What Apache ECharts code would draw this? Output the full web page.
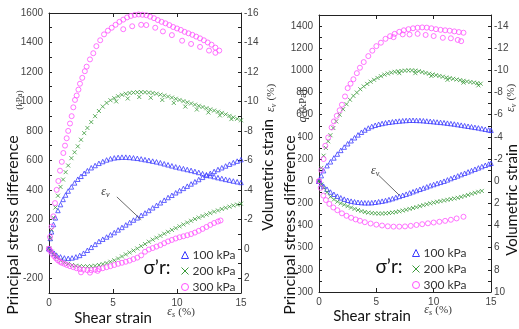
<!DOCTYPE html>
<html><head><meta charset="utf-8">
<script src="https://cdn.jsdelivr.net/npm/echarts@6/dist/echarts.min.js"></script>
<style>html,body{margin:0;padding:0;background:#fff}#c{width:519px;height:329px}</style>
</head><body><div id="c"></div>
<script>
// ---------- DATA (shear strain %, value) ----------
// Left panel: principal stress difference q (kPa)
const leftQ100 = [[0,0],[0.1,70],[0.2,115],[0.35,165],[0.5,210],[0.7,260],[0.9,300],[1.1,335],[1.3,365],[1.5,392],[1.75,420],[2.0,447],[2.25,472],[2.5,492],[2.75,512],[3.0,530],[3.3,550],[3.6,565],[3.9,580],[4.2,592],[4.5,603],[4.8,611],[5.1,617],[5.4,620],[5.7,622],[6.0,622],[6.3,620],[6.6,617],[6.9,614],[7.2,610],[7.5,605],[7.8,600],[8.1,595],[8.4,590],[8.7,584],[9.0,577],[9.3,570],[9.6,563],[9.9,556],[10.2,550],[10.5,544],[10.8,538],[11.1,532],[11.4,525],[11.7,518],[12.0,510],[12.3,503],[12.6,496],[12.9,490],[13.2,483],[13.5,477],[13.8,471],[14.1,466],[14.4,460],[14.7,455],[15.0,450]];
const leftQ200 = [[0,0],[0.1,70],[0.2,130],[0.35,210],[0.5,280],[0.7,360],[0.9,420],[1.1,470],[1.3,520],[1.5,565],[1.75,615],[2.0,655],[2.25,695],[2.5,740],[2.75,785],[3.0,820],[3.3,860],[3.6,900],[3.9,935],[4.2,965],[4.5,990],[4.8,1008],[5.1,1022],[5.4,1035],[5.7,1045],[6.0,1052],[6.3,1057],[6.6,1060],[6.9,1062],[7.2,1063],[7.5,1062],[7.8,1060],[8.1,1057],[8.4,1052],[8.7,1046],[9.0,1040],[9.3,1033],[9.6,1026],[9.9,1018],[10.2,1010],[10.5,1002],[10.8,994],[11.1,986],[11.4,978],[11.7,970],[12.0,962],[12.3,954],[12.6,946],[12.9,938],[13.2,930],[13.5,922],[13.8,912],[14.1,902],[14.4,892],[14.7,882],[15.0,872],
  [5.25,1000],[6.15,1020],[7.05,1030],[7.95,1025],[8.85,1010],[9.75,990],[10.65,965],[11.55,945],[12.45,925],[13.35,905],[14.25,880]];
const leftQ300 = [[0,0],[0.08,80],[0.2,150],[0.34,220],[0.47,310],[0.6,400],[0.73,460],[0.86,530],[1.0,590],[1.12,650],[1.25,700],[1.38,750],[1.5,800],[1.64,850],[1.77,900],[1.9,960],[2.03,1010],[2.16,1040],[2.3,1080],[2.42,1120],[2.6,1160],[2.8,1205],[2.94,1236],[3.2,1285],[3.46,1327],[3.7,1375],[4.0,1415],[4.3,1455],[4.6,1480],[4.9,1500],[5.2,1520],[5.5,1540],[5.8,1555],[6.1,1570],[6.4,1580],[6.7,1587],[7.0,1590],[7.3,1588],[7.6,1585],[7.9,1575],[8.2,1565],[8.5,1552],[8.8,1540],[9.1,1530],[9.4,1518],[9.7,1505],[10.0,1495],[10.3,1485],[10.6,1472],[10.9,1462],[11.2,1452],[11.5,1440],[11.8,1428],[12.1,1415],[12.4,1400],[12.7,1385],[13.0,1365],[13.3,1345],
  [5.8,1490],[6.5,1510],[7.2,1520],[7.6,1518],[8.3,1500],[8.9,1475],[9.6,1450],[10.4,1412],[11.1,1390],[11.8,1370],[12.5,1345],[13.0,1330]];
// Left panel: volumetric strain (%)
const leftEv100 = [[0,0],[0.2,0.15],[0.4,0.3],[0.6,0.45],[0.9,0.55],[1.2,0.62],[1.5,0.65],[1.8,0.62],[2.1,0.55],[2.4,0.45],[2.7,0.3],[3.0,0.1],[3.3,-0.1],[3.6,-0.3],[3.9,-0.5],[4.2,-0.65],[4.5,-0.8],[4.8,-0.95],[5.1,-1.1],[5.4,-1.28],[5.7,-1.45],[6.0,-1.62],[6.3,-1.78],[6.6,-1.95],[6.9,-2.1],[7.2,-2.27],[7.5,-2.43],[7.8,-2.6],[8.1,-2.78],[8.4,-2.95],[8.7,-3.12],[9.0,-3.3],[9.3,-3.48],[9.6,-3.63],[9.9,-3.8],[10.2,-3.95],[10.5,-4.1],[10.8,-4.25],[11.1,-4.4],[11.4,-4.55],[11.7,-4.7],[12.0,-4.85],[12.3,-4.98],[12.6,-5.12],[12.9,-5.25],[13.2,-5.38],[13.5,-5.5],[13.8,-5.62],[14.1,-5.74],[14.4,-5.85],[14.7,-5.95],[15.0,-6.05]];
const leftEv200 = [[0,0],[0.2,0.2],[0.4,0.4],[0.6,0.58],[0.9,0.78],[1.2,0.92],[1.5,1.02],[1.8,1.1],[2.1,1.15],[2.4,1.18],[2.7,1.2],[3.0,1.2],[3.3,1.18],[3.6,1.15],[3.9,1.1],[4.2,1.04],[4.5,0.97],[4.8,0.88],[5.1,0.78],[5.4,0.66],[5.7,0.52],[6.0,0.38],[6.3,0.25],[6.6,0.12],[6.9,-0.02],[7.2,-0.18],[7.5,-0.32],[7.8,-0.48],[8.1,-0.62],[8.4,-0.75],[8.7,-0.88],[9.0,-1.02],[9.3,-1.15],[9.6,-1.28],[9.9,-1.4],[10.2,-1.52],[10.5,-1.65],[10.8,-1.78],[11.1,-1.9],[11.4,-2.02],[11.7,-2.12],[12.0,-2.22],[12.3,-2.32],[12.6,-2.42],[12.9,-2.52],[13.2,-2.6],[13.5,-2.7],[13.8,-2.78],[14.1,-2.86],[14.4,-2.94],[14.7,-3.0],[15.0,-3.06]];
const leftEv300 = [[0,0],[0.1,0.15],[0.25,0.35],[0.4,0.5],[0.55,0.65],[0.7,0.78],[0.86,0.88],[1.0,0.95],[1.2,1.02],[1.4,1.1],[1.64,1.18],[1.9,1.25],[2.15,1.32],[2.4,1.38],[2.7,1.42],[3.0,1.45],[3.3,1.45],[3.6,1.42],[3.9,1.38],[4.2,1.32],[4.5,1.25],[4.8,1.18],[5.1,1.1],[5.4,1.02],[5.7,0.95],[6.0,0.88],[6.3,0.8],[6.6,0.7],[6.9,0.6],[7.2,0.45],[7.5,0.2],[7.8,0.05],[8.1,-0.05],[8.4,-0.15],[8.7,-0.25],[9.0,-0.38],[9.3,-0.5],[9.6,-0.6],[9.9,-0.7],[10.2,-0.78],[10.5,-0.85],[10.8,-0.92],[11.1,-1.0],[11.4,-1.1],[11.7,-1.22],[12.0,-1.35],[12.3,-1.48],[12.6,-1.62],[12.9,-1.75],[13.2,-1.85],[13.4,-1.92],
  [2.5,1.6],[3.2,1.62],[3.8,1.5]];
// Right panel: q (kPa)
const rightQ100 = [[0,0],[0.2,50],[0.4,95],[0.7,140],[1.0,175],[1.3,210],[1.6,245],[1.9,278],[2.2,308],[2.5,338],[2.8,365],[3.1,392],[3.4,418],[3.7,442],[4.0,462],[4.3,480],[4.6,494],[4.9,505],[5.2,514],[5.5,521],[5.8,527],[6.1,532],[6.4,536],[6.7,540],[7.0,543],[7.3,546],[7.6,548],[7.9,550],[8.2,550],[8.5,549],[8.8,548],[9.1,546],[9.4,543],[9.7,540],[10.0,537],[10.3,534],[10.6,531],[10.9,528],[11.2,524],[11.5,520],[11.8,516],[12.1,511],[12.4,506],[12.7,501],[13.0,496],[13.3,491],[13.6,486],[13.9,481],[14.2,475],[14.5,469],[14.8,463],[15.0,459]];
const rightQ200 = [[0,0],[0.2,120],[0.4,230],[0.6,300],[0.8,360],[1.0,415],[1.25,480],[1.5,540],[1.8,600],[2.1,650],[2.4,695],[2.7,735],[3.0,770],[3.3,800],[3.6,830],[3.9,855],[4.2,878],[4.5,898],[4.8,915],[5.1,932],[5.4,948],[5.7,962],[6.0,972],[6.3,980],[6.6,987],[6.9,992],[7.2,995],[7.5,998],[7.8,1000],[8.1,1000],[8.4,998],[8.7,993],[9.0,985],[9.3,977],[9.6,970],[9.9,963],[10.2,957],[10.5,950],[10.8,943],[11.1,936],[11.4,930],[11.7,924],[12.0,918],[12.3,912],[12.6,906],[12.9,900],[13.2,895],[13.5,890],[13.8,885],[14.1,880],
  [7.0,975],[8.4,975],[9.8,950],[11.2,915],[12.6,890],[13.9,865]];
const rightQ300 = [[0,0],[0.2,100],[0.4,200],[0.55,320],[0.8,395],[1.1,485],[1.3,540],[1.55,590],[1.8,640],[2.0,690],[2.27,765],[2.5,840],[2.75,880],[3.0,920],[3.3,975],[3.57,1024],[3.9,1075],[4.3,1129],[4.65,1178],[5.0,1219],[5.4,1250],[5.8,1285],[6.2,1309],[6.6,1330],[7.0,1348],[7.4,1362],[7.8,1372],[8.2,1380],[8.6,1385],[9.0,1388],[9.4,1386],[9.8,1380],[10.2,1372],[10.6,1366],[11.0,1362],[11.4,1358],[11.8,1352],[12.2,1346],[12.6,1340],
  [6.5,1300],[7.3,1325],[7.9,1324],[8.6,1330],[9.3,1320],[10.0,1310],[10.8,1294],[11.5,1290],[12.1,1275],[12.4,1264]];
// Right panel: volumetric strain (%)
const rightEv100 = [[0,0],[0.2,0.25],[0.4,0.45],[0.7,0.72],[1.0,0.98],[1.3,1.18],[1.6,1.35],[1.9,1.5],[2.2,1.62],[2.5,1.72],[2.8,1.8],[3.1,1.86],[3.4,1.9],[3.7,1.93],[4.0,1.95],[4.3,1.95],[4.6,1.94],[4.9,1.9],[5.2,1.85],[5.5,1.8],[5.8,1.74],[6.1,1.66],[6.4,1.57],[6.7,1.47],[7.0,1.37],[7.3,1.27],[7.6,1.17],[7.9,1.06],[8.2,0.95],[8.5,0.84],[8.8,0.73],[9.1,0.62],[9.4,0.51],[9.7,0.4],[10.0,0.3],[10.3,0.2],[10.6,0.1],[10.9,0.0],[11.2,-0.12],[11.5,-0.24],[11.8,-0.36],[12.1,-0.48],[12.4,-0.6],[12.7,-0.72],[13.0,-0.84],[13.3,-0.96],[13.6,-1.08],[13.9,-1.2],[14.2,-1.32],[14.5,-1.44],[14.8,-1.55],[15.0,-1.62]];
const rightEv200 = [[0,0],[0.2,0.3],[0.4,0.6],[0.7,1.0],[1.0,1.4],[1.3,1.65],[1.6,1.85],[1.9,2.0],[2.2,2.12],[2.5,2.25],[2.8,2.38],[3.1,2.5],[3.4,2.6],[3.7,2.7],[4.0,2.78],[4.3,2.84],[4.6,2.88],[4.9,2.9],[5.2,2.92],[5.5,2.92],[5.8,2.9],[6.1,2.87],[6.4,2.83],[6.7,2.78],[7.0,2.72],[7.3,2.65],[7.6,2.58],[7.9,2.5],[8.2,2.42],[8.5,2.34],[8.8,2.25],[9.1,2.16],[9.4,2.08],[9.7,2.0],[10.0,1.93],[10.3,1.86],[10.6,1.8],[10.9,1.74],[11.2,1.68],[11.5,1.62],[11.8,1.56],[12.1,1.5],[12.4,1.42],[12.7,1.33],[13.0,1.24],[13.3,1.14],[13.6,1.05],[13.9,0.96],[14.2,0.88]];
const rightEv300 = [[0,0],[0.15,0.6],[0.38,1.3],[0.6,1.7],[0.9,2.05],[1.25,2.37],[1.6,2.62],[2.0,2.9],[2.4,3.12],[2.8,3.3],[3.2,3.45],[3.57,3.57],[4.0,3.7],[4.5,3.82],[5.0,3.92],[5.5,4.0],[6.0,4.07],[6.5,4.1],[7.0,4.1],[7.5,4.08],[8.0,4.03],[8.5,3.95],[9.0,3.88],[9.5,3.8],[10.0,3.73],[10.5,3.66],[11.0,3.58],[11.5,3.48],[12.0,3.36],[12.6,3.21]];

const seriesNames = ['100 kPa', '200 kPa', '300 kPa'];

// ---------- STYLE ----------
const COLORS = ['#3a3aff', '#3a9a3a', '#ff50ff'];
const SYMBOLS = ['triangle', 'path://M0,0L10,10M10,0L0,10', 'circle'];
const SIZES = [4.5, 4, 5];
const LBL = {fontFamily: 'Liberation Sans', fontSize: 10, color: '#444'};
const BIG = 'Lato';

const chart = echarts.init(document.getElementById('c'));

function sc(name, data, k, xi, yi) {
  return {
    type: 'scatter', name: name, data: data, xAxisIndex: xi, yAxisIndex: yi,
    symbol: SYMBOLS[k], symbolSize: SIZES[k], animation: false,
    itemStyle: {color: 'rgba(0,0,0,0)', borderColor: COLORS[k], borderWidth: 0.8, opacity: 1},
    emphasis: {disabled: true}
  };
}
function xAx(grid, pos, labels) {
  return {type: 'value', gridIndex: grid, position: pos, min: 0, max: 15, interval: 5,
    axisLine: {show: true, onZero: false, lineStyle: {color: '#222', width: 1}},
    axisTick: {show: true, inside: true, length: 4, lineStyle: {color: '#222'}},
    axisLabel: labels ? Object.assign({margin: 5}, LBL) : {show: false},
    splitLine: {show: false}};
}
function yAx(grid, pos, min, max, interval, step, inverse, margin) {
  return {type: 'value', gridIndex: grid, position: pos, min: min, max: max, interval: interval, inverse: inverse,
    axisLine: {show: true, onZero: false, lineStyle: {color: '#222', width: 1}},
    axisTick: {show: true, inside: true, length: 3, lineStyle: {color: '#222'}},
    axisLabel: Object.assign({margin: margin, showMinLabel: true, showMaxLabel: true,
      formatter: v => (Math.round(v) % step === 0 ? String(Math.round(v)) : '')}, LBL),
    splitLine: {show: false}};
}

const legendBase = {data: seriesNames, orient: 'vertical', itemWidth: 7, itemHeight: 7, itemGap: 4, selectedMode: false,
  itemStyle: {borderWidth: 1}, textStyle: {fontFamily: BIG, fontSize: 12, color: '#333', padding: [0, 0, 0, -1]}};

const option = {
  backgroundColor: '#fff',
  animation: false,
  grid: [
    {left: 49, top: 13, width: 192, height: 280},
    {left: 319, top: 15, width: 172, height: 277}
  ],
  xAxis: [xAx(0, 'bottom', true), xAx(0, 'top', false), xAx(1, 'bottom', true), xAx(1, 'top', false)],
  yAxis: [
    yAx(0, 'left', -300, 1600, 100, 200, false, 6),
    yAx(0, 'right', -16, 3, 1, 2, true, 3),
    yAx(1, 'left', -1000, 1500, 100, 200, false, 6),
    yAx(1, 'right', -15, 10, 1, 2, true, 3)
  ],
  legend: [
    Object.assign({left: 176, top: 244}, legendBase),
    Object.assign({left: 407, top: 242}, legendBase)
  ],
  series: [
    sc(seriesNames[0], leftQ100, 0, 0, 0), sc(seriesNames[1], leftQ200, 1, 0, 0), sc(seriesNames[2], leftQ300, 2, 0, 0),
    sc(seriesNames[0], leftEv100, 0, 0, 1), sc(seriesNames[1], leftEv200, 1, 0, 1), sc(seriesNames[2], leftEv300, 2, 0, 1),
    sc(seriesNames[0], rightQ100, 0, 2, 2), sc(seriesNames[1], rightQ200, 1, 2, 2), sc(seriesNames[2], rightQ300, 2, 2, 2),
    sc(seriesNames[0], rightEv100, 0, 2, 3), sc(seriesNames[1], rightEv200, 1, 2, 3), sc(seriesNames[2], rightEv300, 2, 2, 3)
  ]
};
chart.setOption(option);

// ---------- TEXT / ANNOTATIONS ----------
function vtext(x, y, text, size, extra) {
  return Object.assign({type: 'text', x: x, y: y, rotation: Math.PI / 2, z: 100,
    style: {text: text, fontFamily: BIG, fontSize: size, fill: '#111', align: 'center', verticalAlign: 'middle'}}, extra || {});
}
const richEps = {
  e: {fontFamily: 'Liberation Serif', fontStyle: 'italic', fontSize: 12, fill: '#333'},
  s: {fontFamily: 'Liberation Serif', fontStyle: 'italic', fontSize: 8, fill: '#333', verticalAlign: 'bottom', padding: [5, 0, 0, 0]},
  p: {fontFamily: 'Liberation Serif', fontSize: 11, fill: '#333'}
};
function annot(gi, tx, ty, x1, y1, x2, y2) {
  const a = chart.convertToPixel({gridIndex: gi}, [tx, ty]);
  const p1 = chart.convertToPixel({gridIndex: gi}, [x1, y1]);
  const p2 = chart.convertToPixel({gridIndex: gi}, [x2, y2]);
  return [
    {type: 'text', x: a[0], y: a[1], z: 100, style: {text: '{e|ε}{s|v}', rich: richEps, align: 'center', verticalAlign: 'middle'}},
    {type: 'line', z: 100, shape: {x1: p1[0], y1: p1[1], x2: p2[0], y2: p2[1]}, style: {stroke: '#444', lineWidth: 0.8}}
  ];
}
const graphics = [
  vtext(13, 225, 'Principal stress difference', 16),
  vtext(20, 100, '', 9, {style: {text: '(kPa)', fontFamily: 'Liberation Serif', fontSize: 9, fill: '#333', align: 'center', verticalAlign: 'middle'}}),
  vtext(268, 175, 'Volumetric strain', 15),
  vtext(271, 98, '', 9, {style: {text: '{e|ε}{s|v} {p|(%)}', rich: richEps, align: 'center', verticalAlign: 'middle'}}),
  vtext(290, 225, '', 16, {style: {text: 'Principal stress difference', fontFamily: BIG, fontSize: 16, fill: '#111', align: 'center', verticalAlign: 'middle', backgroundColor: '#fff', padding: [0, 2, 0, 2]}}),
  vtext(303, 106, '', 9, {style: {text: '{e|q} {p|(kPa)}', rich: richEps, align: 'center', verticalAlign: 'middle'}}),
  vtext(512, 200, 'Volumetric strain', 15),
  vtext(511, 98, '', 9, {style: {text: '{e|ε}{s|v} {p|(%)}', rich: richEps, align: 'center', verticalAlign: 'middle'}}),
  {type: 'text', x: 113, y: 318, z: 100, style: {text: 'Shear strain', fontFamily: BIG, fontSize: 15, fill: '#111', align: 'center', verticalAlign: 'middle'}},
  {type: 'text', x: 181, y: 312, z: 100, style: {text: '{e|ε}{s|s} {p|(%)}', rich: richEps, align: 'center', verticalAlign: 'middle'}},
  {type: 'text', x: 372, y: 316, z: 100, style: {text: 'Shear strain', fontFamily: BIG, fontSize: 15, fill: '#111', align: 'center', verticalAlign: 'middle'}},
  {type: 'text', x: 438, y: 310, z: 100, style: {text: '{e|ε}{s|s} {p|(%)}', rich: richEps, align: 'center', verticalAlign: 'middle'}},
  {type: 'text', x: 157, y: 268, z: 100, style: {text: 'σ’r:', fontFamily: BIG, fontSize: 19, fill: '#111', align: 'center', verticalAlign: 'middle'}},
  {type: 'text', x: 389, y: 267, z: 100, style: {text: 'σ’r:', fontFamily: BIG, fontSize: 19, fill: '#111', align: 'center', verticalAlign: 'middle'}}
].concat(annot(0, 4.4, 386, 5.3, 352, 7.2, 197), annot(1, 4.9, 90, 5.2, 54, 7.0, -126));
chart.setOption({graphic: graphics});
</script>
</body></html>
